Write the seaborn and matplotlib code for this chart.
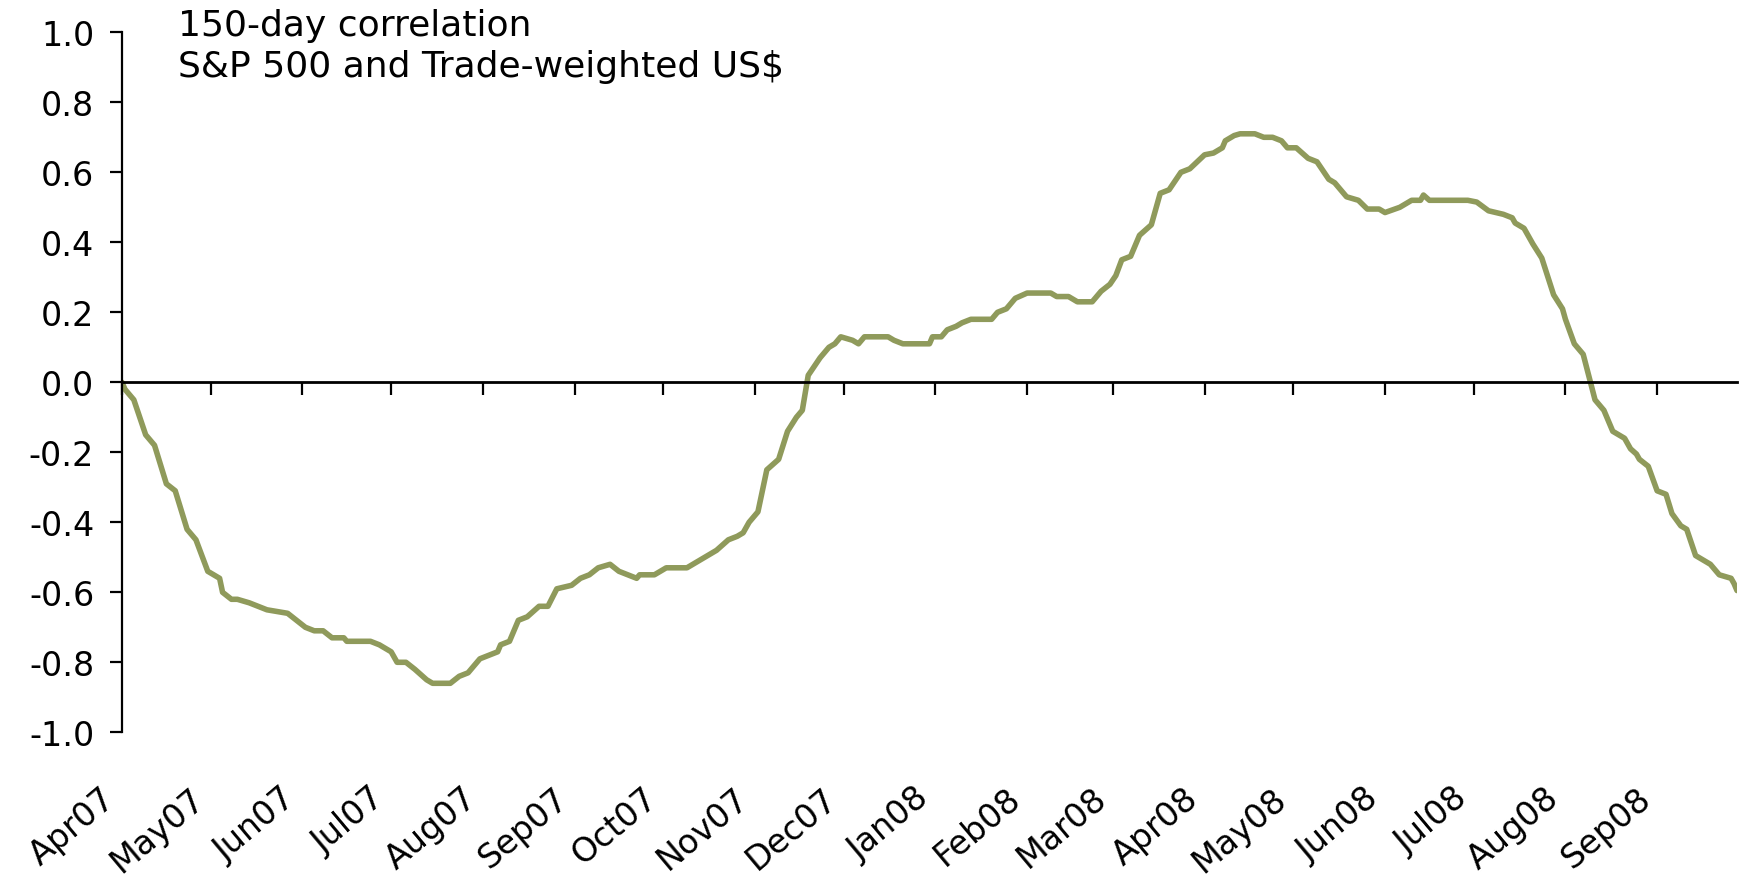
"""
150-day rolling correlation: S&P 500 vs trade-weighted US$
Single olive line, Apr07 - Sep08, zero line carries the month ticks,
month labels sit under the plot area.
"""

import matplotlib
matplotlib.use("Agg")
import matplotlib.pyplot as plt
import matplotlib.dates as mdates
from matplotlib.ticker import FixedLocator, FormatStrFormatter
import pandas as pd
import seaborn as sns

# ── Data ───────────────────────────────────────────────────────────────────
DATES = [
    "2007-04-01", "2007-04-02", "2007-04-05", "2007-04-07", "2007-04-09",
    "2007-04-12", "2007-04-16", "2007-04-19", "2007-04-23", "2007-04-26",
    "2007-04-30", "2007-05-04", "2007-05-05", "2007-05-08", "2007-05-10",
    "2007-05-14", "2007-05-17", "2007-05-20", "2007-05-27", "2007-05-30",
    "2007-06-02", "2007-06-05", "2007-06-08", "2007-06-11", "2007-06-15",
    "2007-06-16", "2007-06-24", "2007-06-27", "2007-07-01", "2007-07-03",
    "2007-07-06", "2007-07-09", "2007-07-13", "2007-07-15", "2007-07-21",
    "2007-07-24", "2007-07-27", "2007-07-31", "2007-08-03", "2007-08-06",
    "2007-08-07", "2007-08-10", "2007-08-13", "2007-08-16", "2007-08-20",
    "2007-08-23", "2007-08-26", "2007-08-31", "2007-09-03", "2007-09-06",
    "2007-09-09", "2007-09-13", "2007-09-16", "2007-09-19", "2007-09-22",
    "2007-09-23", "2007-09-28", "2007-10-02", "2007-10-09", "2007-10-13",
    "2007-10-15", "2007-10-19", "2007-10-23", "2007-10-26", "2007-10-28",
    "2007-10-30", "2007-11-02", "2007-11-05", "2007-11-09", "2007-11-12",
    "2007-11-15", "2007-11-17", "2007-11-19", "2007-11-23", "2007-11-26",
    "2007-11-28", "2007-11-30", "2007-12-04", "2007-12-06", "2007-12-08",
    "2007-12-10", "2007-12-14", "2007-12-16", "2007-12-18", "2007-12-21",
    "2007-12-30", "2007-12-31", "2008-01-03", "2008-01-05", "2008-01-08",
    "2008-01-10", "2008-01-13", "2008-01-20", "2008-01-22", "2008-01-25",
    "2008-01-28", "2008-02-01", "2008-02-09", "2008-02-11", "2008-02-15",
    "2008-02-18", "2008-02-23", "2008-02-26", "2008-02-29", "2008-03-02",
    "2008-03-04", "2008-03-07", "2008-03-10", "2008-03-14", "2008-03-17",
    "2008-03-20", "2008-03-24", "2008-03-27", "2008-04-01", "2008-04-04",
    "2008-04-07", "2008-04-08", "2008-04-11", "2008-04-13", "2008-04-18",
    "2008-04-21", "2008-04-24", "2008-04-27", "2008-04-29", "2008-05-02",
    "2008-05-06", "2008-05-09", "2008-05-13", "2008-05-15", "2008-05-19",
    "2008-05-23", "2008-05-26", "2008-05-30", "2008-06-01", "2008-06-06",
    "2008-06-10", "2008-06-13", "2008-06-14", "2008-06-16", "2008-06-29",
    "2008-07-02", "2008-07-06", "2008-07-11", "2008-07-14", "2008-07-15",
    "2008-07-18", "2008-07-21", "2008-07-24", "2008-07-28", "2008-07-31",
    "2008-08-01", "2008-08-04", "2008-08-07", "2008-08-11", "2008-08-14",
    "2008-08-17", "2008-08-21", "2008-08-23", "2008-08-25", "2008-08-26",
    "2008-08-29", "2008-09-01", "2008-09-04", "2008-09-06", "2008-09-09",
    "2008-09-11", "2008-09-14", "2008-09-19", "2008-09-20", "2008-09-22",
    "2008-09-26", "2008-09-27", "2008-09-28",
]
CORR = [
    0.00, -0.02, -0.05, -0.10, -0.15,
    -0.18, -0.29, -0.31, -0.42, -0.45,
    -0.54, -0.56, -0.60, -0.62, -0.62,
    -0.63, -0.64, -0.65, -0.66, -0.68,
    -0.70, -0.71, -0.71, -0.73, -0.73,
    -0.74, -0.74, -0.75, -0.77, -0.80,
    -0.80, -0.82, -0.85, -0.86, -0.86,
    -0.84, -0.83, -0.79, -0.78, -0.77,
    -0.75, -0.74, -0.68, -0.67, -0.64,
    -0.64, -0.59, -0.58, -0.56, -0.55,
    -0.53, -0.52, -0.54, -0.55, -0.56,
    -0.55, -0.55, -0.53, -0.53, -0.51,
    -0.50, -0.48, -0.45, -0.44, -0.43,
    -0.40, -0.37, -0.25, -0.22, -0.14,
    -0.10, -0.08, 0.02, 0.07, 0.10,
    0.11, 0.13, 0.12, 0.11, 0.13,
    0.13, 0.13, 0.13, 0.12, 0.11,
    0.11, 0.13, 0.13, 0.15, 0.16,
    0.17, 0.18, 0.18, 0.20, 0.21,
    0.24, 0.255, 0.255, 0.245, 0.245,
    0.23, 0.23, 0.26, 0.28, 0.305,
    0.35, 0.36, 0.42, 0.45, 0.54,
    0.55, 0.60, 0.61, 0.65, 0.655,
    0.67, 0.69, 0.705, 0.71, 0.71,
    0.70, 0.70, 0.69, 0.67, 0.67,
    0.64, 0.63, 0.58, 0.57, 0.53,
    0.52, 0.495, 0.495, 0.485, 0.50,
    0.52, 0.52, 0.535, 0.52, 0.52,
    0.515, 0.49, 0.48, 0.47, 0.455,
    0.44, 0.395, 0.355, 0.25, 0.21,
    0.18, 0.11, 0.08, -0.05, -0.08,
    -0.14, -0.16, -0.19, -0.205, -0.22,
    -0.24, -0.31, -0.32, -0.375, -0.41,
    -0.42, -0.495, -0.52, -0.53, -0.55,
    -0.56, -0.575, -0.595,
]
Y_TICKS     = [-1.0, -0.8, -0.6, -0.4, -0.2, 0.0, 0.2, 0.4, 0.6, 0.8, 1.0]
TITLE_LINES = ["150-day correlation", "S&P 500 and Trade-weighted US$"]
X_START, X_END = "2007-04-01", "2008-09-28"

LINE_COLOR = "#8F9A5B"
W, H = 1745, 879


def main():
    sns.set_style("white")
    plt.rcParams["font.family"] = ["DejaVu Sans"]
    plt.rcParams["axes.unicode_minus"] = False
    plt.rcParams["text.color"] = "black"

    df = pd.DataFrame({"date": pd.to_datetime(DATES), "corr": CORR})

    fig = plt.figure(figsize=(W / 100, H / 100), dpi=100)
    # plot area in pixels: x 122..1737, y 33..733 (1.0 .. -1.0)
    ax = fig.add_axes([122 / W, (H - 733.3) / H, (1737 - 122) / W, 700 / H])

    sns.lineplot(data=df, x="date", y="corr", ax=ax, color=LINE_COLOR,
                 linewidth=4.0, legend=False)

    ax.set_xlim(pd.Timestamp(X_START), pd.Timestamp(X_END))
    ax.set_ylim(-1, 1)
    ax.set_xlabel(""); ax.set_ylabel("")

    # ── spines ────────────────────────────────────────────────────────────
    for s in ["top", "right"]:
        ax.spines[s].set_visible(False)
    ax.spines["left"].set_linewidth(1.6)
    ax.spines["left"].set_color("black")
    ax.spines["bottom"].set_position(("data", 0))
    ax.spines["bottom"].set_linewidth(2.0)
    ax.spines["bottom"].set_color("black")

    # ── y axis ────────────────────────────────────────────────────────────
    ax.yaxis.set_major_locator(FixedLocator(Y_TICKS))
    ax.yaxis.set_major_formatter(FormatStrFormatter("%.1f"))
    ax.tick_params(axis="y", left=True, direction="out", length=9, width=1.6,
                   pad=11, labelsize=24, colors="black")

    # ── x axis: ticks on the zero line, labels under the plot ─────────────
    months = pd.date_range(X_START, X_END, freq="MS")
    month_nums = mdates.date2num(months)
    ax.xaxis.set_major_locator(FixedLocator(month_nums))
    ax.tick_params(axis="x", bottom=True, direction="out", length=9,
                   width=1.6, labelbottom=False, colors="black")

    sec = ax.secondary_xaxis("bottom")
    sec.spines["bottom"].set_visible(False)
    sec.set_xticks(month_nums, labels=[m.strftime("%b%y") for m in months],
                   rotation=40, ha="right", fontsize=24, color="black")
    sec.tick_params(length=0, pad=35)

    fig.text(178 / W, 1 - 9 / H, "\n".join(TITLE_LINES), fontsize=26,
             ha="left", va="top", linespacing=1.25)

    fig.savefig("out.png", dpi=100)
    plt.close(fig)


if __name__ == "__main__":
    main()
